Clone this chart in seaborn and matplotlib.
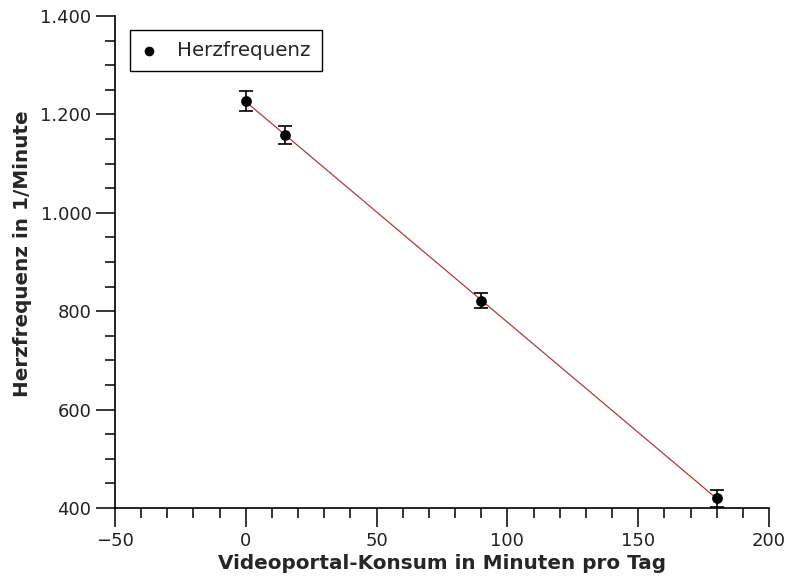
import matplotlib
matplotlib.use("Agg")
import matplotlib.pyplot as plt
from matplotlib.ticker import MultipleLocator, FuncFormatter
import numpy as np
import pandas as pd
import seaborn as sns

# Messwerte
minuten = [0, 15, 90, 180]
herzfrequenz = [1227, 1158, 821, 420]
fehler = [21, 19, 15, 17]

df = pd.DataFrame({"minuten": minuten, "herzfrequenz": herzfrequenz})

sns.set_style("ticks")
plt.rcParams["font.family"] = ["DejaVu Sans"]

fig = plt.figure(figsize=(7.9, 5.82), dpi=100)
ax = fig.add_axes([115 / 790, 1 - 508 / 582, (769 - 115) / 790, (508 - 16) / 582])

# Ausgleichsgerade
sns.regplot(data=df, x="minuten", y="herzfrequenz", ax=ax, ci=None, scatter=False,
            truncate=True, line_kws=dict(color="#b23a3a", lw=0.9, zorder=2))

ax.errorbar(minuten, herzfrequenz, yerr=fehler, fmt="none", ecolor="black",
            elinewidth=1.2, capsize=4.7, capthick=1.2, zorder=3)
sns.scatterplot(data=df, x="minuten", y="herzfrequenz", ax=ax, color="black",
                s=60, edgecolor="black", linewidth=0, zorder=4, label="Herzfrequenz")

ax.set_xlim(-50, 200)
ax.set_ylim(400, 1400)
ax.xaxis.set_major_locator(MultipleLocator(50))
ax.xaxis.set_minor_locator(MultipleLocator(10))
ax.yaxis.set_major_locator(MultipleLocator(200))
ax.yaxis.set_minor_locator(MultipleLocator(50))
ax.yaxis.set_major_formatter(FuncFormatter(lambda v, p: f"{int(v):,}".replace(",", ".")))
ax.xaxis.set_major_formatter(FuncFormatter(lambda v, p: f"{int(v)}".replace("-", "\u2212")))

ax.tick_params(axis="both", which="major", direction="out", length=14, width=1.1,
               labelsize=13, color="black", labelcolor="#222222", pad=3)
ax.tick_params(axis="both", which="minor", direction="out", length=7.5, width=1.1,
               color="black")
for s in ["top", "right"]:
    ax.spines[s].set_visible(False)
for s in ["left", "bottom"]:
    ax.spines[s].set_linewidth(1.2)
    ax.spines[s].set_color("black")

ax.set_xlabel("Videoportal-Konsum in Minuten pro Tag", fontsize=14.4, fontweight="bold", labelpad=3)
ax.set_ylabel("Herzfrequenz in 1/Minute", fontsize=14.4, fontweight="bold", labelpad=6)
ax.yaxis.label.set_y(0.516)

leg = ax.legend(loc="upper left", bbox_to_anchor=(0.023, 0.9715), fontsize=14.3,
                frameon=True, fancybox=False, edgecolor="black", framealpha=1,
                handletextpad=1.0, borderpad=0.56, handlelength=0.8, markerscale=0.9,
                borderaxespad=0)
leg.get_frame().set_linewidth(1.0)

fig.savefig("out.png", dpi=100)
